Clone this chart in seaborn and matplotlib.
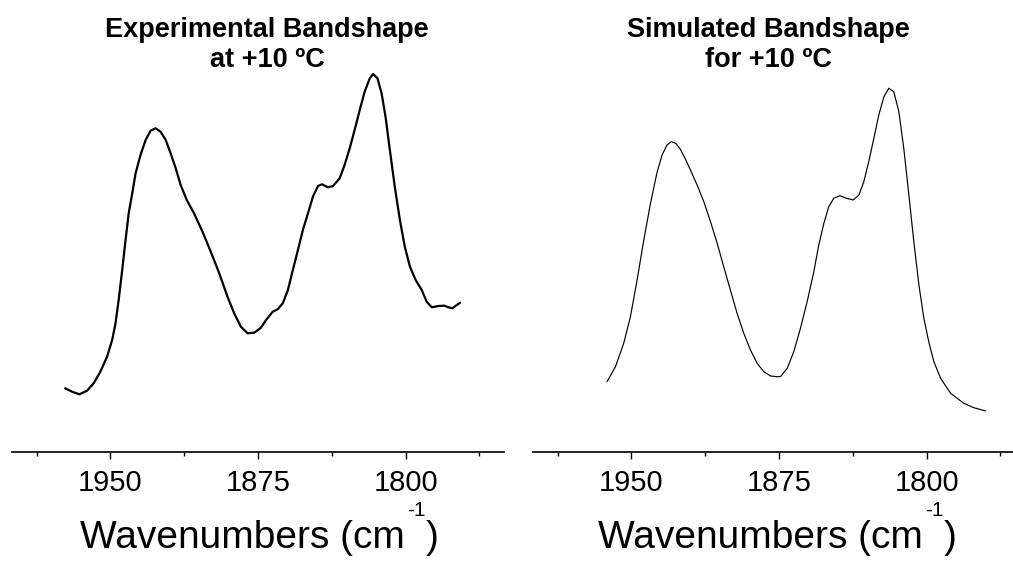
import numpy as np
import pandas as pd
import matplotlib
matplotlib.use("Agg")
import matplotlib.pyplot as plt
from matplotlib.ticker import MultipleLocator
import seaborn as sns

# Experimental IR bandshape at +10 ºC (wavenumber in cm^-1, intensity in a.u.)
exp_wavenumber = [1973.0, 1969.5, 1965.7, 1961.9, 1958.5, 1955.1, 1951.7, 1949.1,
                  1947.4, 1945.8, 1944.0, 1942.3, 1940.7, 1938.9, 1937.2, 1934.7,
                  1932.1, 1929.6, 1927.0, 1924.5, 1921.9, 1919.4, 1916.8, 1914.3,
                  1911.2, 1907.5, 1903.2, 1899.0, 1894.7, 1890.5, 1887.1, 1883.7,
                  1880.3, 1876.9, 1873.5, 1870.9, 1867.5, 1865.0, 1862.4, 1859.8,
                  1857.3, 1854.7, 1852.2, 1849.6, 1847.1, 1844.5, 1842.5, 1839.4,
                  1836.9, 1833.5, 1831.0, 1828.4, 1825.9, 1823.3, 1820.8, 1818.2,
                  1816.5, 1814.3, 1812.2, 1810.2, 1808.0, 1805.5, 1802.9, 1800.4,
                  1797.8, 1794.9, 1791.8, 1789.3, 1786.7, 1783.3, 1780.3, 1778.2,
                  1776.2, 1774.0, 1772.3]
exp_intensity = [63.7, 60.3, 57.7, 61.3, 68.7, 80.3, 95.3, 112.0,
                 128.7, 152.0, 182.0, 212.0, 238.7, 258.7, 278.7, 297.0,
                 312.0, 321.3, 323.7, 320.3, 312.0, 298.7, 283.7, 267.0,
                 252.0, 238.7, 220.3, 200.3, 178.7, 155.3, 138.7, 125.3,
                 118.7, 119.3, 124.3, 132.0, 140.3, 142.7, 148.7, 162.0,
                 182.0, 202.0, 222.0, 238.7, 255.3, 266.0, 267.7, 264.7,
                 266.0, 273.7, 287.0, 303.7, 322.0, 342.0, 360.3, 373.7,
                 378.0, 373.7, 358.7, 335.3, 302.0, 265.3, 232.0, 205.3,
                 185.3, 172.0, 162.0, 150.3, 144.7, 146.0, 146.3, 144.7,
                 143.7, 147.0, 149.3]

# Simulated bandshape for +10 ºC
sim_wavenumber = [1962.4, 1958.1, 1953.9, 1950.5, 1947.1, 1943.7, 1940.3, 1936.9,
                  1934.4, 1931.9, 1929.7, 1927.5, 1925.1, 1922.5, 1920.0, 1916.6,
                  1913.2, 1909.8, 1906.4, 1903.1, 1899.7, 1896.3, 1892.9, 1889.5,
                  1886.1, 1882.7, 1879.3, 1875.9, 1874.2, 1870.8, 1867.5, 1864.1,
                  1860.7, 1857.3, 1854.8, 1852.2, 1849.7, 1847.2, 1844.1, 1840.7,
                  1837.3, 1834.4, 1831.9, 1829.4, 1826.8, 1824.3, 1821.7, 1819.2,
                  1816.7, 1814.1, 1811.6, 1809.0, 1806.5, 1803.9, 1801.4, 1798.9,
                  1796.3, 1792.9, 1787.8, 1781.1, 1776.0, 1770.0]
sim_intensity = [70.3, 85.3, 108.7, 135.3, 172.0, 212.0, 248.7, 280.3,
                 297.0, 307.0, 310.3, 308.7, 302.7, 292.7, 282.0, 267.0,
                 250.3, 230.3, 208.7, 185.3, 162.0, 138.7, 118.7, 102.0,
                 88.7, 80.3, 76.0, 75.3, 75.5, 83.7, 100.3, 123.7,
                 150.3, 180.3, 207.0, 228.7, 245.3, 253.7, 256.3, 253.7,
                 252.0, 257.0, 270.3, 290.3, 313.7, 337.0, 355.3, 363.7,
                 360.3, 340.3, 303.7, 257.0, 210.3, 167.0, 133.7, 110.3,
                 90.3, 73.7, 58.7, 48.7, 44.3, 41.0]

major_ticks = [1950, 1875, 1800]
titles = [("Experimental Bandshape", "at +10 ºC"),
          ("Simulated Bandshape", "for +10 ºC")]
label_main, label_sup, label_end = "Wavenumbers (cm", "-1", ")"

sns.set_style("white")
plt.rcParams["font.family"] = ["Liberation Sans", "DejaVu Sans"]
plt.rcParams["text.color"] = "black"
plt.rcParams["xtick.color"] = "black"
plt.rcParams["xtick.labelcolor"] = "black"

W, H = 1013, 565
fig = plt.figure(figsize=(W / 100, H / 100), dpi=100)

axis_y = 452
top_y = 40
ax_w = 492
panels = [
    dict(left=12, df=pd.DataFrame({"w": exp_wavenumber, "a": exp_intensity}), lw=1.6,
         title_x=267, label_x=259),
    dict(left=533, df=pd.DataFrame({"w": sim_wavenumber, "a": sim_intensity}), lw=0.85,
         title_x=768, label_x=777),
]

renderer = fig.canvas.get_renderer()


def axis_label(xc, baseline):
    """Wavenumber label with a raised '-1' exponent, centred on xc (pixels)."""
    parts = [fig.text(0, 0, label_main, fontsize=28, va="baseline", ha="left"),
             fig.text(0, 0, label_sup, fontsize=15, va="baseline", ha="left"),
             fig.text(0, 0, label_end, fontsize=28, va="baseline", ha="left")]
    widths = [t.get_window_extent(renderer).width for t in parts]
    gaps = [2, 0, 0]
    total = sum(widths) + sum(gaps)
    x = xc - total / 2
    raise_px = [0, 32, 0]
    for t, w, r, g in zip(parts, widths, raise_px, gaps):
        t.set_position((x / W, 1 - (baseline - r) / H))
        x += w + g


for p, (t1, t2) in zip(panels, titles):
    ax = fig.add_axes([p["left"] / W, (H - axis_y) / H, ax_w / W, (axis_y - top_y) / H])
    sns.lineplot(data=p["df"], x="w", y="a", ax=ax, color="black", lw=p["lw"],
                 sort=False, estimator=None)
    ax.set_xlim(2000, 1750)
    ax.set_ylim(0, axis_y - top_y)
    ax.set_xlabel("")
    ax.set_ylabel("")
    ax.set_yticks([])
    for s in ("top", "left", "right"):
        ax.spines[s].set_visible(False)
    ax.spines["bottom"].set_color("black")
    ax.spines["bottom"].set_linewidth(1.2)
    ax.xaxis.set_minor_locator(MultipleLocator(37.5))
    ax.set_xticks(major_ticks)
    ax.set_xticklabels([str(t) for t in major_ticks])
    ax.tick_params(axis="x", which="major", direction="out", length=5, width=1.0,
                   color="black", labelsize=21, pad=7, bottom=True)
    ax.tick_params(axis="x", which="minor", direction="out", length=2.6, width=1.0,
                   color="black", bottom=True)
    ax.patch.set_alpha(0)

    fig.text(p["title_x"] / W, 1 - 37 / H, t1, ha="center", va="baseline",
             fontsize=19.5, fontweight="bold")
    fig.text(p["title_x"] / W, 1 - 67 / H, t2, ha="center", va="baseline",
             fontsize=19.5, fontweight="bold")
    axis_label(p["label_x"], 548)

fig.savefig("out.png", dpi=100, facecolor="white")
